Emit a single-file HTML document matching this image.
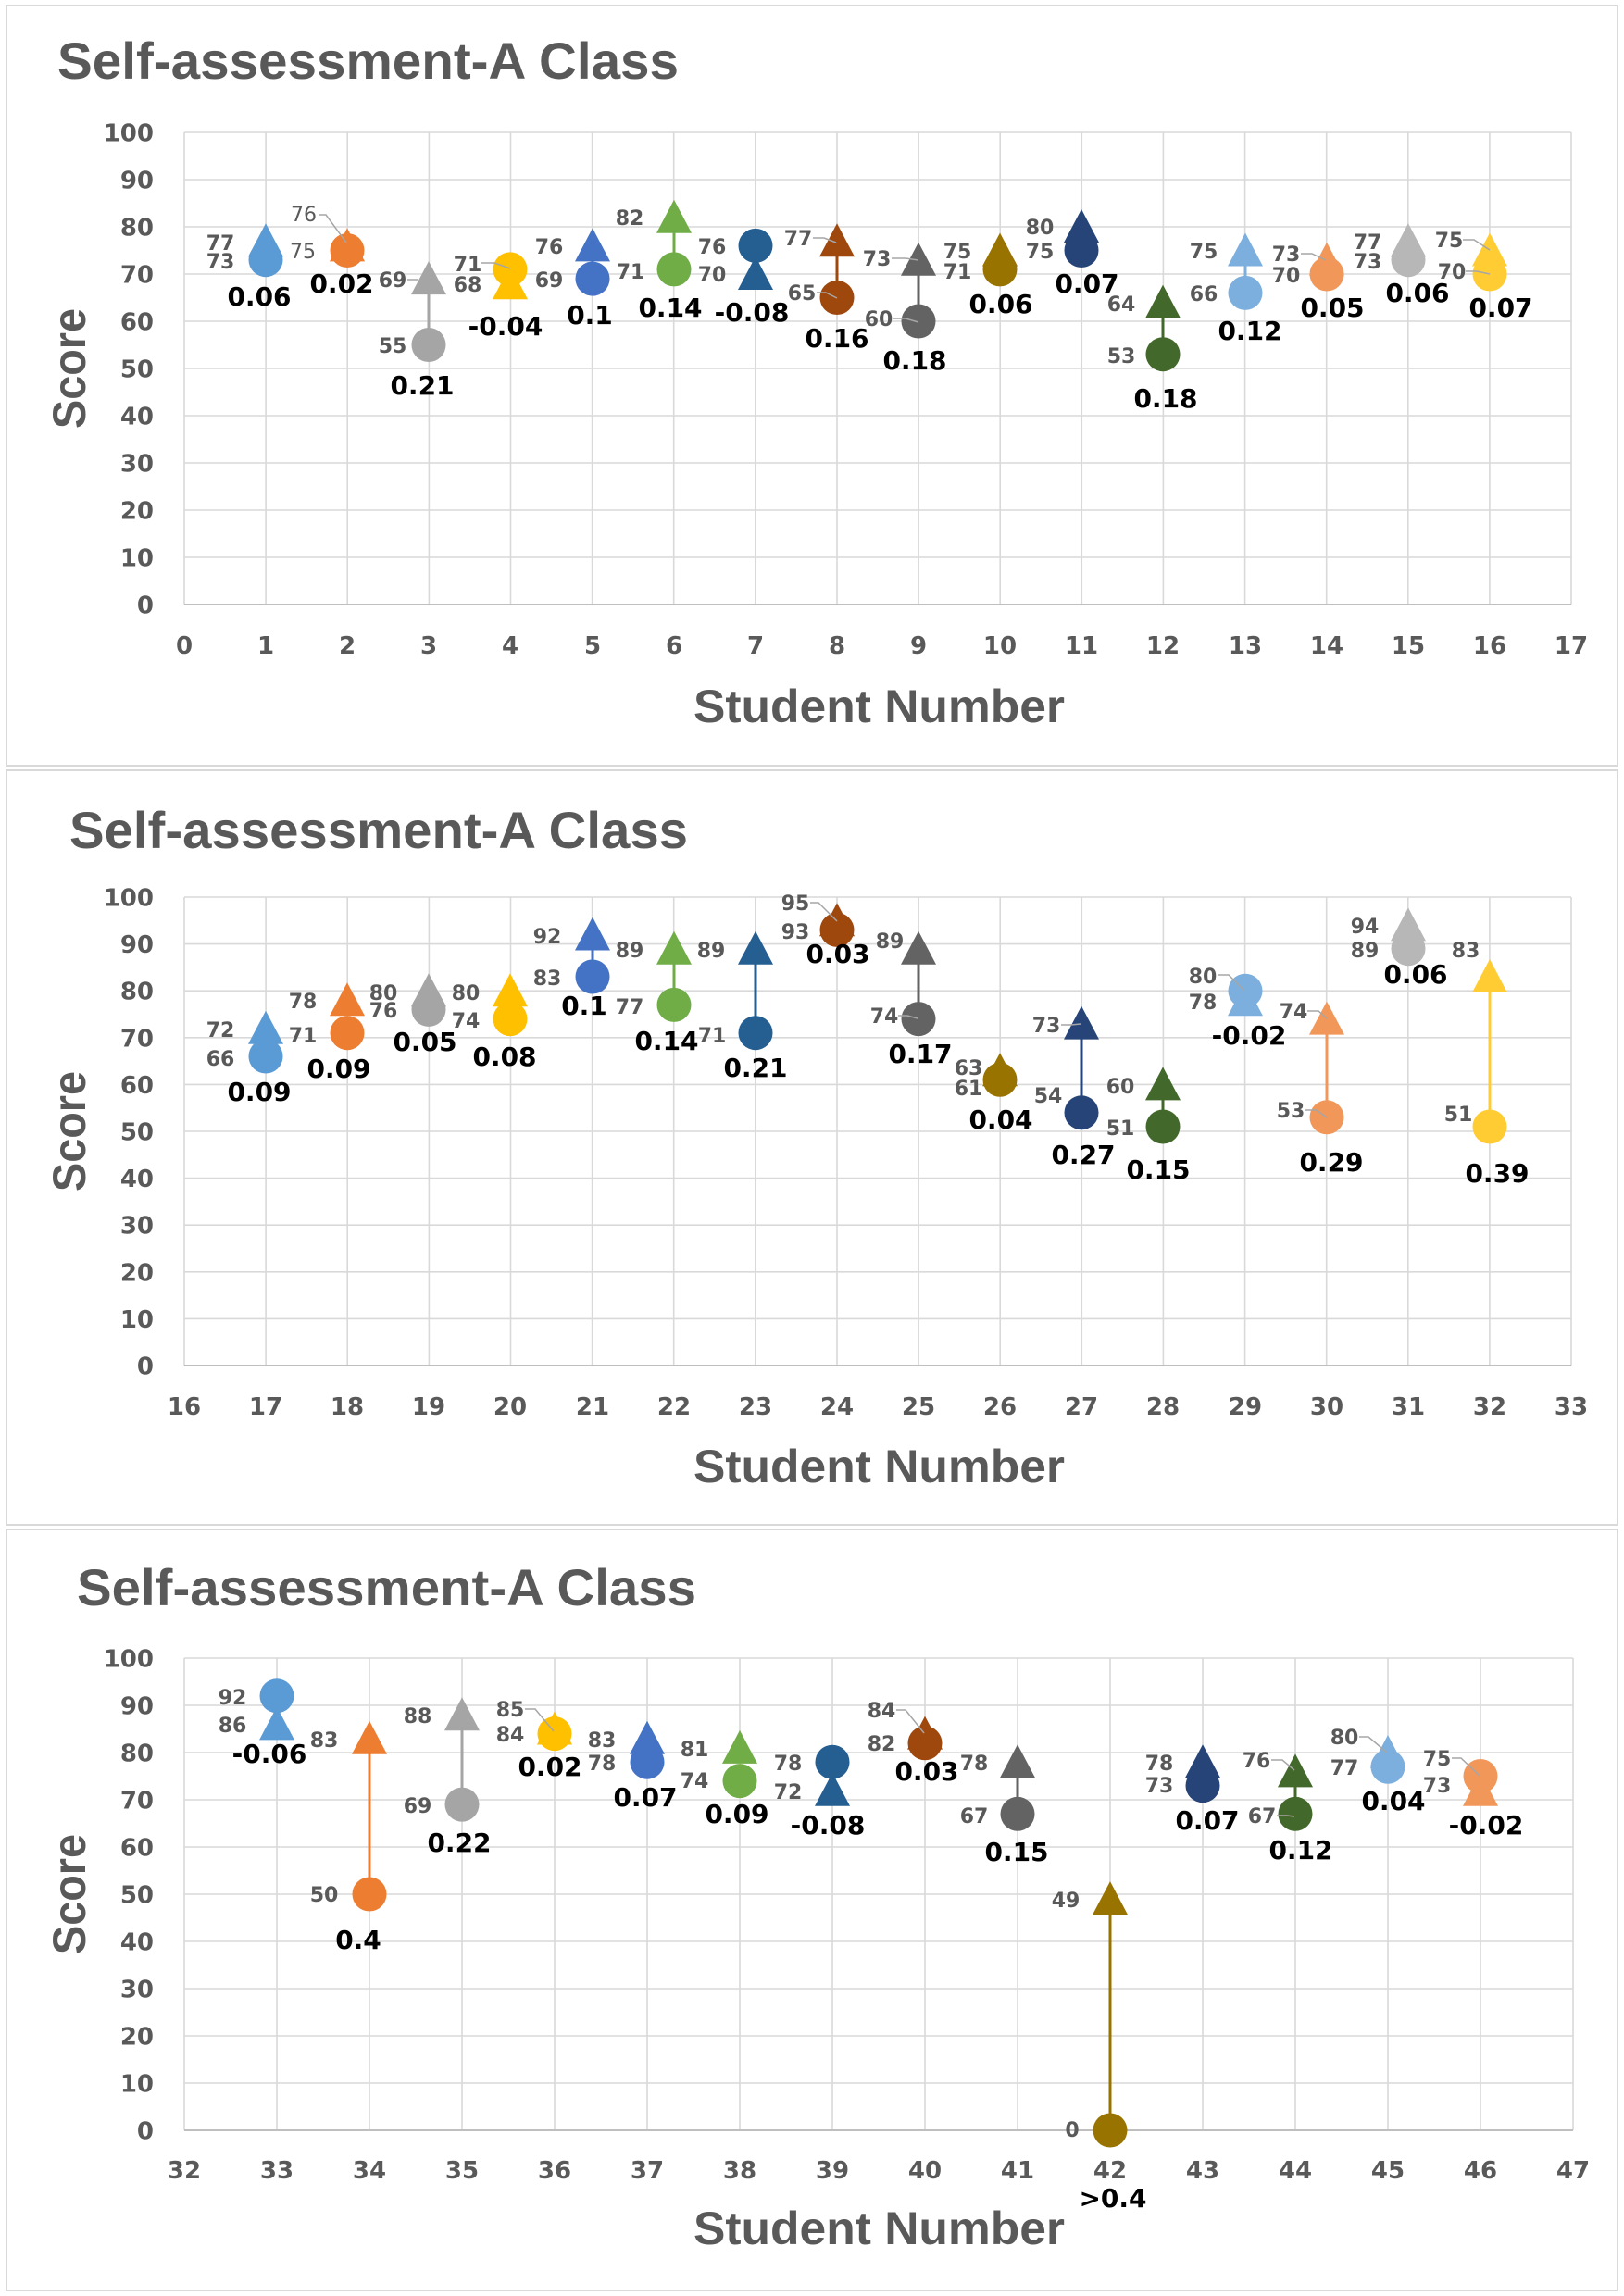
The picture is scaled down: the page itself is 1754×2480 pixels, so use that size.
<!DOCTYPE html>
<html>
<head>
<meta charset="utf-8">
<style>
html,body{margin:0;padding:0;background:#fff;}
svg{display:block;}
.title{font-family:"Liberation Sans",sans-serif;font-weight:bold;font-size:56px;fill:#595959;}
.atitle{font-family:"Liberation Sans",sans-serif;font-weight:bold;font-size:50px;fill:#595959;}
.tick{font-family:"DejaVu Sans","Liberation Sans",sans-serif;font-weight:bold;font-size:26px;fill:#595959;}
.yt{text-anchor:end;}
.xt{text-anchor:middle;}
.lab{font-family:"DejaVu Sans","Liberation Sans",sans-serif;font-weight:bold;font-size:22px;fill:#595959;text-anchor:middle;}
.dif{font-family:"DejaVu Sans","Liberation Sans",sans-serif;font-weight:bold;font-size:28px;fill:#000;text-anchor:middle;}
.grid{stroke:#d9d9d9;stroke-width:1.6;fill:none;}
.axis{stroke:#bfbfbf;stroke-width:2;fill:none;}
.panel{stroke:#d9d9d9;stroke-width:2;fill:#fff;}
.lead{stroke:#a6a6a6;stroke-width:1.5;fill:none;}
</style>
</head>
<body>
<svg width="1754" height="2480" viewBox="0 0 1754 2480" xmlns="http://www.w3.org/2000/svg">
<rect x="0" y="0" width="1754" height="2480" fill="#fff"/>

<!-- ================= PANEL 1 ================= -->
<rect class="panel" x="7" y="6" width="1740" height="821"/>
<text class="title" x="62" y="85" textLength="671" lengthAdjust="spacingAndGlyphs">Self-assessment-A Class</text>
<path class="grid" d="M199 143H1697M199 194H1697M199 245H1697M199 296H1697M199 347H1697M199 398H1697M199 449H1697M199 500H1697M199 551H1697M199 602H1697
M199 143V653M287.1 143V653M375.2 143V653M463.4 143V653M551.5 143V653M639.6 143V653M727.7 143V653M815.8 143V653M904 143V653M992.1 143V653M1080.2 143V653M1168.3 143V653M1256.4 143V653M1344.6 143V653M1432.7 143V653M1520.8 143V653M1608.9 143V653M1697 143V653"/>
<path class="axis" d="M199 653H1697"/>
<g class="tick yt">
<text x="166" y="152.5">100</text><text x="166" y="203.5">90</text><text x="166" y="254.5">80</text><text x="166" y="305.5">70</text><text x="166" y="356.5">60</text><text x="166" y="407.5">50</text><text x="166" y="458.5">40</text><text x="166" y="509.5">30</text><text x="166" y="560.5">20</text><text x="166" y="611.5">10</text><text x="166" y="662.5">0</text>
</g>
<g class="tick xt">
<text x="199" y="706">0</text><text x="287" y="706">1</text><text x="375" y="706">2</text><text x="463" y="706">3</text><text x="551" y="706">4</text><text x="640" y="706">5</text><text x="728" y="706">6</text><text x="816" y="706">7</text><text x="904" y="706">8</text><text x="992" y="706">9</text><text x="1080" y="706">10</text><text x="1168" y="706">11</text><text x="1256" y="706">12</text><text x="1345" y="706">13</text><text x="1433" y="706">14</text><text x="1521" y="706">15</text><text x="1609" y="706">16</text><text x="1697" y="706">17</text>
</g>
<text class="atitle" x="749" y="780" textLength="401" lengthAdjust="spacingAndGlyphs">Student Number</text>
<text class="atitle" transform="translate(92,398) rotate(-90)" text-anchor="middle" textLength="130" lengthAdjust="spacingAndGlyphs">Score</text>

<g stroke-width="3">
<line x1="463" y1="301" x2="463" y2="372" stroke="#a5a5a5"/>
<line x1="640" y1="265" x2="640" y2="301" stroke="#4472c4"/>
<line x1="728" y1="235" x2="728" y2="291" stroke="#70ad47"/>
<line x1="816" y1="265" x2="816" y2="296" stroke="#255e91"/>
<line x1="904" y1="260" x2="904" y2="321" stroke="#9e480e"/>
<line x1="992" y1="281" x2="992" y2="347" stroke="#636363"/>
<line x1="1256" y1="327" x2="1256" y2="383" stroke="#43682b"/>
<line x1="1345" y1="270" x2="1345" y2="316" stroke="#7cafdd"/>
</g>
<circle cx="287" cy="280.7" r="18.5" fill="#5b9bd5"/><polygon points="287,241.3 268,277.3 306,277.3" fill="#5b9bd5"/>
<circle cx="375" cy="270.5" r="18.5" fill="#ed7d31"/><polygon points="375,246.4 356,282.4 394,282.4" fill="#ed7d31"/>
<circle cx="463" cy="372.5" r="18.5" fill="#a5a5a5"/><polygon points="463,282.1 444,318.1 482,318.1" fill="#a5a5a5"/>
<circle cx="551" cy="290.9" r="18.5" fill="#ffc000"/><polygon points="551,287.2 532,323.2 570,323.2" fill="#ffc000"/>
<circle cx="640" cy="301.1" r="18.5" fill="#4472c4"/><polygon points="640,246.4 621,282.4 659,282.4" fill="#4472c4"/>
<circle cx="728" cy="290.9" r="18.5" fill="#70ad47"/><polygon points="728,215.8 709,251.8 747,251.8" fill="#70ad47"/>
<circle cx="816" cy="265.4" r="18.5" fill="#255e91"/><polygon points="816,277 797,313 835,313" fill="#255e91"/>
<circle cx="904" cy="321.5" r="18.5" fill="#9e480e"/><polygon points="904,241.3 885,277.3 923,277.3" fill="#9e480e"/>
<circle cx="992" cy="347" r="18.5" fill="#636363"/><polygon points="992,261.7 973,297.7 1011,297.7" fill="#636363"/>
<circle cx="1080" cy="290.9" r="18.5" fill="#997300"/><polygon points="1080,251.5 1061,287.5 1099,287.5" fill="#997300"/>
<circle cx="1168" cy="270.5" r="18.5" fill="#264478"/><polygon points="1168,226 1149,262 1187,262" fill="#264478"/>
<circle cx="1256" cy="382.7" r="18.5" fill="#43682b"/><polygon points="1256,307.6 1237,343.6 1275,343.6" fill="#43682b"/>
<circle cx="1345" cy="316.4" r="18.5" fill="#7cafdd"/><polygon points="1345,251.5 1326,287.5 1364,287.5" fill="#7cafdd"/>
<circle cx="1433" cy="296" r="18.5" fill="#f1975a"/><polygon points="1433,261.7 1414,297.7 1452,297.7" fill="#f1975a"/>
<circle cx="1521" cy="280.7" r="18.5" fill="#b7b7b7"/><polygon points="1521,241.3 1502,277.3 1540,277.3" fill="#b7b7b7"/>
<circle cx="1609" cy="296" r="18.5" fill="#ffcd33"/><polygon points="1609,251.5 1590,287.5 1628,287.5" fill="#ffcd33"/>
<polyline class="lead" points="344,232 352,232 374,262"/>
<polyline class="lead" points="440,302 452,302"/>
<polyline class="lead" points="520,284 534,284 551,290"/>
<polyline class="lead" points="878,257 890,257 903,262"/>
<polyline class="lead" points="882,316 892,316 904,322"/>
<polyline class="lead" points="963,279 978,279 992,281"/>
<polyline class="lead" points="965,344 978,344 992,348"/>
<polyline class="lead" points="1405,274 1417,274 1432,281"/>
<polyline class="lead" points="1580,259 1592,259 1609,270"/>
<polyline class="lead" points="1583,293 1595,293 1609,296"/>
<g class="lab">
<text x="238" y="270">77</text><text x="238" y="290">73</text>
<text x="328" y="239" font-weight="normal">76</text><text x="327" y="279" font-weight="normal">75</text>
<text x="424" y="310">69</text><text x="424" y="381">55</text>
<text x="505" y="293">71</text><text x="505" y="315">68</text>
<text x="593" y="274">76</text><text x="593" y="310">69</text>
<text x="680" y="243">82</text><text x="681" y="301">71</text>
<text x="769" y="274">76</text><text x="769" y="304">70</text>
<text x="862" y="265">77</text><text x="866" y="324">65</text>
<text x="947" y="287">73</text><text x="949" y="352">60</text>
<text x="1034" y="279">75</text><text x="1034" y="301">71</text>
<text x="1123" y="253">80</text><text x="1123" y="279">75</text>
<text x="1211" y="336">64</text><text x="1211" y="392">53</text>
<text x="1300" y="279">75</text><text x="1300" y="325">66</text>
<text x="1389" y="282">73</text><text x="1389" y="305">70</text>
<text x="1477" y="269">77</text><text x="1477" y="290">73</text>
<text x="1565" y="267">75</text><text x="1568" y="301">70</text>
</g>
<g class="dif">
<text x="280" y="330">0.06</text>
<text x="369" y="316">0.02</text>
<text x="456" y="426">0.21</text>
<text x="546" y="362">-0.04</text>
<text x="637" y="350">0.1</text>
<text x="724" y="342">0.14</text>
<text x="812" y="347">-0.08</text>
<text x="904" y="375">0.16</text>
<text x="988" y="399">0.18</text>
<text x="1081" y="338">0.06</text>
<text x="1174" y="316">0.07</text>
<text x="1259" y="440">0.18</text>
<text x="1350" y="367">0.12</text>
<text x="1439" y="342">0.05</text>
<text x="1531" y="326">0.06</text>
<text x="1621" y="342">0.07</text>
</g>

<!-- ================= PANEL 2 ================= -->
<rect class="panel" x="7" y="832" width="1740" height="815"/>
<text class="title" x="75" y="916" textLength="668" lengthAdjust="spacingAndGlyphs">Self-assessment-A Class</text>
<path class="grid" d="M199 969H1697M199 1019.6H1697M199 1070.2H1697M199 1120.8H1697M199 1171.4H1697M199 1222H1697M199 1272.6H1697M199 1323.2H1697M199 1373.8H1697M199 1424.4H1697
M199 969V1475M287.1 969V1475M375.2 969V1475M463.4 969V1475M551.5 969V1475M639.6 969V1475M727.7 969V1475M815.8 969V1475M904 969V1475M992.1 969V1475M1080.2 969V1475M1168.3 969V1475M1256.4 969V1475M1344.6 969V1475M1432.7 969V1475M1520.8 969V1475M1608.9 969V1475M1697 969V1475"/>
<path class="axis" d="M199 1475H1697"/>
<g class="tick yt">
<text x="166" y="978.5">100</text><text x="166" y="1029.1">90</text><text x="166" y="1079.7">80</text><text x="166" y="1130.3">70</text><text x="166" y="1180.9">60</text><text x="166" y="1231.5">50</text><text x="166" y="1282.1">40</text><text x="166" y="1332.7">30</text><text x="166" y="1383.3">20</text><text x="166" y="1433.9">10</text><text x="166" y="1484.5">0</text>
</g>
<g class="tick xt">
<text x="199" y="1528">16</text><text x="287" y="1528">17</text><text x="375" y="1528">18</text><text x="463" y="1528">19</text><text x="551" y="1528">20</text><text x="640" y="1528">21</text><text x="728" y="1528">22</text><text x="816" y="1528">23</text><text x="904" y="1528">24</text><text x="992" y="1528">25</text><text x="1080" y="1528">26</text><text x="1168" y="1528">27</text><text x="1256" y="1528">28</text><text x="1345" y="1528">29</text><text x="1433" y="1528">30</text><text x="1521" y="1528">31</text><text x="1609" y="1528">32</text><text x="1697" y="1528">33</text>
</g>
<text class="atitle" x="749" y="1601" textLength="401" lengthAdjust="spacingAndGlyphs">Student Number</text>
<text class="atitle" transform="translate(92,1222) rotate(-90)" text-anchor="middle" textLength="130" lengthAdjust="spacingAndGlyphs">Score</text>

<g stroke-width="3">
<line x1="640" y1="1010" x2="640" y2="1055" stroke="#4472c4"/>
<line x1="728" y1="1025" x2="728" y2="1085" stroke="#70ad47"/>
<line x1="816" y1="1025" x2="816" y2="1116" stroke="#255e91"/>
<line x1="992" y1="1025" x2="992" y2="1101" stroke="#636363"/>
<line x1="1168" y1="1106" x2="1168" y2="1202" stroke="#264478"/>
<line x1="1256" y1="1171" x2="1256" y2="1217" stroke="#43682b"/>
<line x1="1433" y1="1101" x2="1433" y2="1207" stroke="#f1975a"/>
<line x1="1609" y1="1055" x2="1609" y2="1217" stroke="#ffcd33"/>
</g>
<circle cx="287" cy="1141" r="18.5" fill="#5b9bd5"/><polygon points="287,1091.7 268,1127.7 306,1127.7" fill="#5b9bd5"/>
<circle cx="375" cy="1115.7" r="18.5" fill="#ed7d31"/><polygon points="375,1061.3 356,1097.3 394,1097.3" fill="#ed7d31"/>
<circle cx="463" cy="1090.4" r="18.5" fill="#a5a5a5"/><polygon points="463,1051.2 444,1087.2 482,1087.2" fill="#a5a5a5"/>
<circle cx="551" cy="1100.6" r="18.5" fill="#ffc000"/><polygon points="551,1051.2 532,1087.2 570,1087.2" fill="#ffc000"/>
<circle cx="640" cy="1055" r="18.5" fill="#4472c4"/><polygon points="640,990.5 621,1026.5 659,1026.5" fill="#4472c4"/>
<circle cx="728" cy="1085.4" r="18.5" fill="#70ad47"/><polygon points="728,1005.7 709,1041.7 747,1041.7" fill="#70ad47"/>
<circle cx="816" cy="1115.7" r="18.5" fill="#255e91"/><polygon points="816,1005.7 797,1041.7 835,1041.7" fill="#255e91"/>
<circle cx="904" cy="1004.4" r="18.5" fill="#9e480e"/><polygon points="904,975.3 885,1011.3 923,1011.3" fill="#9e480e"/>
<circle cx="992" cy="1100.6" r="18.5" fill="#636363"/><polygon points="992,1005.7 973,1041.7 1011,1041.7" fill="#636363"/>
<circle cx="1080" cy="1166.3" r="18.5" fill="#997300"/><polygon points="1080,1137.2 1061,1173.2 1099,1173.2" fill="#997300"/>
<circle cx="1168" cy="1201.8" r="18.5" fill="#264478"/><polygon points="1168,1086.6 1149,1122.6 1187,1122.6" fill="#264478"/>
<circle cx="1256" cy="1217" r="18.5" fill="#43682b"/><polygon points="1256,1152.4 1237,1188.4 1275,1188.4" fill="#43682b"/>
<circle cx="1345" cy="1070.2" r="18.5" fill="#7cafdd"/><polygon points="1345,1061.3 1326,1097.3 1364,1097.3" fill="#7cafdd"/>
<circle cx="1433" cy="1206.8" r="18.5" fill="#f1975a"/><polygon points="1433,1081.6 1414,1117.6 1452,1117.6" fill="#f1975a"/>
<circle cx="1521" cy="1024.7" r="18.5" fill="#b7b7b7"/><polygon points="1521,980.4 1502,1016.4 1540,1016.4" fill="#b7b7b7"/>
<circle cx="1609" cy="1217" r="18.5" fill="#ffcd33"/><polygon points="1609,1036 1590,1072 1628,1072" fill="#ffcd33"/>
<polyline class="lead" points="875,975 884,975 904,995"/>
<polyline class="lead" points="970,1097 980,1097 991,1100"/>
<polyline class="lead" points="1146,1107 1157,1107 1167,1106"/>
<polyline class="lead" points="1315,1053 1327,1053 1344,1070"/>
<polyline class="lead" points="1412,1092 1424,1092 1433,1100"/>
<polyline class="lead" points="1410,1199 1422,1199 1433,1207"/>
<g class="lab">
<text x="238" y="1120">72</text><text x="238" y="1151">66</text>
<text x="327" y="1089">78</text><text x="327" y="1126">71</text>
<text x="414" y="1080">80</text><text x="414" y="1099">76</text>
<text x="503" y="1080">80</text><text x="503" y="1110">74</text>
<text x="591" y="1019">92</text><text x="591" y="1064">83</text>
<text x="680" y="1034">89</text><text x="680" y="1095">77</text>
<text x="768" y="1034">89</text><text x="769" y="1126">71</text>
<text x="859" y="983">95</text><text x="859" y="1014">93</text>
<text x="961" y="1024">89</text><text x="955" y="1105">74</text>
<text x="1046" y="1161">63</text><text x="1046" y="1183">61</text>
<text x="1130" y="1115">73</text><text x="1132" y="1191">54</text>
<text x="1210" y="1181">60</text><text x="1210" y="1226">51</text>
<text x="1299" y="1062">80</text><text x="1299" y="1090">78</text>
<text x="1397" y="1100">74</text><text x="1394" y="1207">53</text>
<text x="1474" y="1008">94</text><text x="1474" y="1034">89</text>
<text x="1583" y="1034">83</text><text x="1575" y="1211">51</text>
</g>
<g class="dif">
<text x="280" y="1189">0.09</text>
<text x="366" y="1164">0.09</text>
<text x="459" y="1135">0.05</text>
<text x="545" y="1151">0.08</text>
<text x="631" y="1096">0.1</text>
<text x="720" y="1134">0.14</text>
<text x="816" y="1163">0.21</text>
<text x="905" y="1040">0.03</text>
<text x="994" y="1148">0.17</text>
<text x="1081" y="1219">0.04</text>
<text x="1170" y="1257">0.27</text>
<text x="1251" y="1273">0.15</text>
<text x="1349" y="1128">-0.02</text>
<text x="1438" y="1265">0.29</text>
<text x="1529" y="1062">0.06</text>
<text x="1617" y="1277">0.39</text>
</g>

<!-- ================= PANEL 3 ================= -->
<rect class="panel" x="7" y="1652" width="1740" height="822"/>
<text class="title" x="83" y="1734" textLength="669" lengthAdjust="spacingAndGlyphs">Self-assessment-A Class</text>
<path class="grid" d="M199 1791H1699M199 1842H1699M199 1893H1699M199 1944H1699M199 1995H1699M199 2046H1699M199 2097H1699M199 2148H1699M199 2199H1699M199 2250H1699
M199 1791V2301M299 1791V2301M399 1791V2301M499 1791V2301M599 1791V2301M699 1791V2301M799 1791V2301M899 1791V2301M999 1791V2301M1099 1791V2301M1199 1791V2301M1299 1791V2301M1399 1791V2301M1499 1791V2301M1599 1791V2301M1699 1791V2301"/>
<path class="axis" d="M199 2301H1699"/>
<g class="tick yt">
<text x="166" y="1800.5">100</text><text x="166" y="1851.5">90</text><text x="166" y="1902.5">80</text><text x="166" y="1953.5">70</text><text x="166" y="2004.5">60</text><text x="166" y="2055.5">50</text><text x="166" y="2106.5">40</text><text x="166" y="2157.5">30</text><text x="166" y="2208.5">20</text><text x="166" y="2259.5">10</text><text x="166" y="2310.5">0</text>
</g>
<g class="tick xt">
<text x="199" y="2353">32</text><text x="299" y="2353">33</text><text x="399" y="2353">34</text><text x="499" y="2353">35</text><text x="599" y="2353">36</text><text x="699" y="2353">37</text><text x="799" y="2353">38</text><text x="899" y="2353">39</text><text x="999" y="2353">40</text><text x="1099" y="2353">41</text><text x="1199" y="2353">42</text><text x="1299" y="2353">43</text><text x="1399" y="2353">44</text><text x="1499" y="2353">45</text><text x="1599" y="2353">46</text><text x="1699" y="2353">47</text>
</g>
<text class="atitle" x="749" y="2424" textLength="401" lengthAdjust="spacingAndGlyphs">Student Number</text>
<text class="atitle" transform="translate(92,2046) rotate(-90)" text-anchor="middle" textLength="130" lengthAdjust="spacingAndGlyphs">Score</text>

<g stroke-width="3">
<line x1="399" y1="1878" x2="399" y2="2046" stroke="#ed7d31"/>
<line x1="499" y1="1852" x2="499" y2="1949" stroke="#a5a5a5"/>
<line x1="1099" y1="1903" x2="1099" y2="1959" stroke="#636363"/>
<line x1="1199" y1="2051" x2="1199" y2="2301" stroke="#997300"/>
<line x1="1399" y1="1913" x2="1399" y2="1959" stroke="#43682b"/>
</g>
<circle cx="299" cy="1831.8" r="18.5" fill="#5b9bd5"/><polygon points="299,1843.4 280,1879.4 318,1879.4" fill="#5b9bd5"/>
<circle cx="399" cy="2046" r="18.5" fill="#ed7d31"/><polygon points="399,1858.7 380,1894.7 418,1894.7" fill="#ed7d31"/>
<circle cx="499" cy="1949.1" r="18.5" fill="#a5a5a5"/><polygon points="499,1833.2 480,1869.2 518,1869.2" fill="#a5a5a5"/>
<circle cx="599" cy="1872.6" r="18.5" fill="#ffc000"/><polygon points="599,1848.5 580,1884.5 618,1884.5" fill="#ffc000"/>
<circle cx="699" cy="1903.2" r="18.5" fill="#4472c4"/><polygon points="699,1858.7 680,1894.7 718,1894.7" fill="#4472c4"/>
<circle cx="799" cy="1923.6" r="18.5" fill="#70ad47"/><polygon points="799,1868.9 780,1904.9 818,1904.9" fill="#70ad47"/>
<circle cx="899" cy="1903.2" r="18.5" fill="#255e91"/><polygon points="899,1914.8 880,1950.8 918,1950.8" fill="#255e91"/>
<circle cx="999" cy="1882.8" r="18.5" fill="#9e480e"/><polygon points="999,1853.6 980,1889.6 1018,1889.6" fill="#9e480e"/>
<circle cx="1099" cy="1959.3" r="18.5" fill="#636363"/><polygon points="1099,1884.2 1080,1920.2 1118,1920.2" fill="#636363"/>
<circle cx="1199" cy="2301" r="18.5" fill="#997300"/><polygon points="1199,2032.1 1180,2068.1 1218,2068.1" fill="#997300"/>
<circle cx="1299" cy="1928.7" r="18.5" fill="#264478"/><polygon points="1299,1884.2 1280,1920.2 1318,1920.2" fill="#264478"/>
<circle cx="1399" cy="1959.3" r="18.5" fill="#43682b"/><polygon points="1399,1894.4 1380,1930.4 1418,1930.4" fill="#43682b"/>
<circle cx="1499" cy="1908.3" r="18.5" fill="#7cafdd"/><polygon points="1499,1874 1480,1910 1518,1910" fill="#7cafdd"/>
<circle cx="1599" cy="1918.5" r="18.5" fill="#f1975a"/><polygon points="1599,1914.8 1580,1950.8 1618,1950.8" fill="#f1975a"/>
<polyline class="lead" points="567,1846 578,1846 598,1870"/>
<polyline class="lead" points="968,1847 978,1847 998,1872"/>
<polyline class="lead" points="1373,1901 1385,1901 1398,1912"/>
<polyline class="lead" points="1379,1961 1390,1961 1398,1962"/>
<polyline class="lead" points="1468,1876 1478,1876 1498,1893"/>
<polyline class="lead" points="1568,1899 1578,1899 1598,1918"/>
<g class="lab">
<text x="251" y="1841">92</text><text x="251" y="1871">86</text>
<text x="350" y="1887">83</text><text x="350" y="2054">50</text>
<text x="451" y="1861">88</text><text x="451" y="1958">69</text>
<text x="551" y="1854">85</text><text x="551" y="1881">84</text>
<text x="650" y="1887">83</text><text x="650" y="1912">78</text>
<text x="750" y="1897">81</text><text x="750" y="1931">74</text>
<text x="851" y="1912">78</text><text x="851" y="1943">72</text>
<text x="952" y="1855">84</text><text x="952" y="1891">82</text>
<text x="1052" y="1912">78</text><text x="1052" y="1969">67</text>
<text x="1151" y="2060">49</text><text x="1158" y="2308">0</text>
<text x="1252" y="1912">78</text><text x="1252" y="1936">73</text>
<text x="1357" y="1909">76</text><text x="1363" y="1969">67</text>
<text x="1452" y="1884">80</text><text x="1452" y="1917">77</text>
<text x="1552" y="1907">75</text><text x="1552" y="1936">73</text>
</g>
<g class="dif">
<text x="291" y="1904">-0.06</text>
<text x="387" y="2105">0.4</text>
<text x="496" y="2000">0.22</text>
<text x="594" y="1918">0.02</text>
<text x="697" y="1951">0.07</text>
<text x="796" y="1969">0.09</text>
<text x="894" y="1981">-0.08</text>
<text x="1001" y="1923">0.03</text>
<text x="1098" y="2010">0.15</text>
<text x="1202" y="2384">&gt;0.4</text>
<text x="1304" y="1976">0.07</text>
<text x="1405" y="2008">0.12</text>
<text x="1505" y="1955">0.04</text>
<text x="1605" y="1981">-0.02</text>
</g>
</svg>
</body>
</html>
